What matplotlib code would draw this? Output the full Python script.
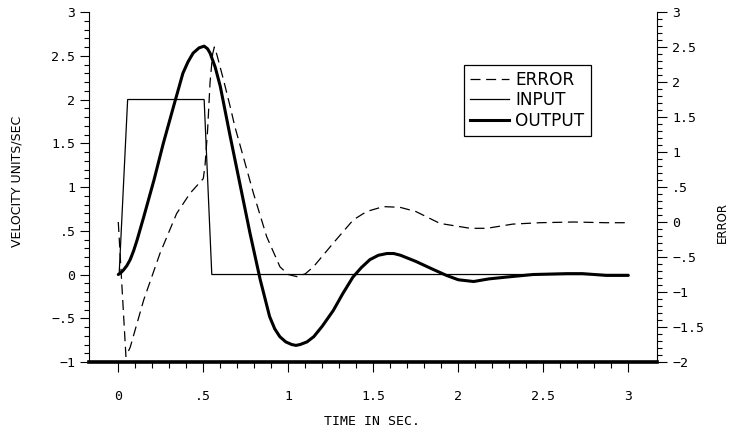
import matplotlib
matplotlib.use("Agg")
import matplotlib.pyplot as plt
from matplotlib.ticker import MultipleLocator, FixedLocator
from matplotlib import font_manager as fm
from matplotlib.lines import Line2D

# ---------------- data ----------------
input_t = [0.0, 0.005, 0.055, 0.505, 0.55, 3.0]
input_v = [0.0, 0.0, 2.0, 2.0, 0.0, 0.0]

output_t = [0.0, 0.015, 0.03, 0.05, 0.07, 0.09, 0.11, 0.15, 0.21, 0.265, 0.325,
            0.38, 0.41, 0.44, 0.475, 0.505, 0.525, 0.54, 0.57, 0.60, 0.655,
            0.715, 0.775, 0.835, 0.89, 0.92, 0.95, 0.985, 1.02, 1.045, 1.07,
            1.11, 1.15, 1.2, 1.265, 1.32, 1.38, 1.43, 1.48, 1.53, 1.58, 1.62,
            1.66, 1.75, 1.85, 1.93, 2.0, 2.09, 2.18, 2.28, 2.44, 2.64, 2.73,
            2.87, 3.0]
output_v = [0.0, 0.02, 0.05, 0.10, 0.17, 0.27, 0.39, 0.66, 1.08, 1.50, 1.92,
            2.30, 2.43, 2.53, 2.59, 2.61, 2.58, 2.53, 2.37, 2.15, 1.61,
            1.04, 0.47, -0.06, -0.48, -0.62, -0.71, -0.77, -0.80, -0.81, -0.80,
            -0.77, -0.71, -0.59, -0.41, -0.22, -0.03, 0.08, 0.17, 0.22, 0.24, 0.24,
            0.22, 0.15, 0.06, -0.01, -0.06, -0.08, -0.05, -0.03, 0.0, 0.01, 0.01,
            -0.01, -0.01]

error_t = [0.0, 0.045, 0.07, 0.15, 0.245, 0.343, 0.422, 0.50, 0.51, 0.525, 0.54,
           0.555, 0.565, 0.58, 0.619, 0.658, 0.686, 0.716, 0.795, 0.873, 0.951,
           1.0, 1.05, 1.10, 1.148, 1.265, 1.382, 1.461, 1.559, 1.657, 1.75,
           1.892, 2.07, 2.168, 2.32, 2.48, 2.676, 2.87, 3.0]
error_v = [0.0, -1.92, -1.79, -1.11, -0.45, 0.12, 0.41, 0.62, 0.80, 1.30, 2.00,
           2.40, 2.50, 2.39, 2.03, 1.65, 1.36, 1.10, 0.41, -0.21, -0.64,
           -0.75, -0.78, -0.74, -0.64, -0.30, 0.03, 0.15, 0.22, 0.21, 0.15,
           -0.02, -0.09, -0.09, -0.03, -0.01, 0.0, -0.01, -0.01]

x_ticks = [0, 0.5, 1, 1.5, 2, 2.5, 3]
x_labels = ["0", ".5", "1", "1.5", "2", "2.5", "3"]
left_ticks = [-1, -0.5, 0, 0.5, 1, 1.5, 2, 2.5, 3]
left_labels = ["\u22121", "\u2212.5", "0", ".5", "1", "1.5", "2", "2.5", "3"]
right_ticks = [-2, -1.5, -1, -0.5, 0, 0.5, 1, 1.5, 2, 2.5, 3]
right_labels = ["\u22122", "\u22121.5", "\u22121", "\u2212.5", "0", ".5", "1",
                "1.5", "2", "2.5", "3"]

# ---------------- fonts ----------------
names = {f.name for f in fm.fontManager.ttflist}
narrow = "Liberation Sans Narrow" if "Liberation Sans Narrow" in names else "DejaVu Sans"
tickfont = "DejaVu Sans Mono"

fig = plt.figure(figsize=(7.30, 4.32), dpi=100)
ax = fig.add_axes([0.1223, 0.162, 0.7773, 0.8102])
ax2 = ax.twinx()

ax.plot(input_t, input_v, color="black", lw=0.9, solid_joinstyle="miter")
ax.plot(output_t, output_v, color="black", lw=2.2, solid_capstyle="round",
        solid_joinstyle="round")
ax2.plot(error_t, error_v, color="black", lw=0.9, dashes=(8, 4.5))

ax.set_xlim(-0.1706, 3.167)
ax.set_ylim(-1, 3)
ax2.set_ylim(-2, 3)

# spines
for s in ["top", "right"]:
    ax.spines[s].set_visible(False)
for s in ["top", "left", "bottom"]:
    ax2.spines[s].set_visible(False)
ax.spines["bottom"].set_linewidth(2.6)
ax.spines["left"].set_linewidth(0.8)
ax2.spines["right"].set_linewidth(0.8)

# ticks
ax.xaxis.set_major_locator(FixedLocator(x_ticks))
ax.xaxis.set_minor_locator(FixedLocator([i / 10 for i in range(31) if i % 5]))
ax.set_xticklabels(x_labels, fontfamily=tickfont, fontsize=9.5)
ax.tick_params(axis="x", which="major", direction="out", length=7, width=0.8, pad=13)
ax.tick_params(axis="x", which="minor", direction="out", length=4, width=0.8)

ax.yaxis.set_major_locator(FixedLocator(left_ticks))
ax.yaxis.set_minor_locator(MultipleLocator(0.1))
ax.set_yticklabels(left_labels, fontfamily=tickfont, fontsize=9.5)
ax.tick_params(axis="y", which="major", direction="out", length=6.5, width=0.8, pad=3.5)
ax.tick_params(axis="y", which="minor", direction="out", length=3.6, width=0.8)

ax2.yaxis.set_major_locator(FixedLocator(right_ticks))
ax2.yaxis.set_minor_locator(MultipleLocator(0.1))
ax2.set_yticklabels(right_labels, fontfamily=tickfont, fontsize=9.5)
ax2.tick_params(axis="y", which="major", direction="out", length=7, width=0.8, pad=4)
ax2.tick_params(axis="y", which="minor", direction="out", length=3.6, width=0.8)

# axis titles
fig.text(0.5096, 0.024, "TIME IN SEC.", ha="center", va="center",
         fontfamily=tickfont, fontsize=9.5)
fig.text(0.023, 0.579, "VELOCITY UNITS/SEC", rotation=90, ha="center", va="center",
         fontfamily=narrow, fontsize=9)
fig.text(0.989, 0.486, "ERROR", rotation=90, ha="center", va="center",
         fontfamily=narrow, fontsize=8.5)

# legend
handles = [Line2D([], [], color="black", lw=0.9, dashes=(8, 4.5)),
           Line2D([], [], color="black", lw=0.9),
           Line2D([], [], color="black", lw=2.2)]
leg = ax.legend(handles, ["ERROR", "INPUT", "OUTPUT"], loc="upper left",
                bbox_to_anchor=(0.660, 0.849), borderaxespad=0, fancybox=False,
                framealpha=1, edgecolor="black", fontsize=12.2, handlelength=2.3,
                handletextpad=0.4, labelspacing=0.15, borderpad=0.35)
leg.get_frame().set_linewidth(0.9)

fig.savefig("out.png", dpi=100)
